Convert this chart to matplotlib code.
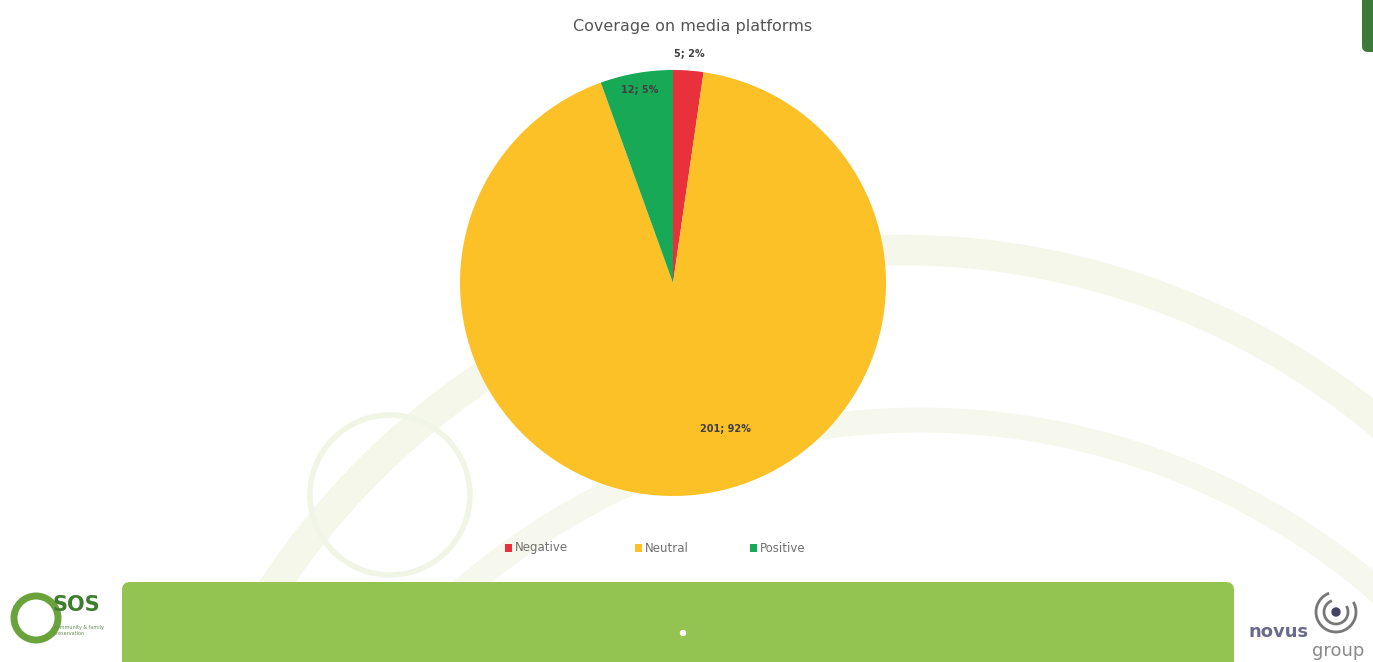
import numpy as np
import matplotlib.pyplot as plt
from matplotlib.patches import Circle, Arc, FancyBboxPatch, Rectangle

# Sentiment of coverage on media platforms
categories = ['Negative', 'Neutral', 'Positive']
counts = [5, 201, 12]
percents = [2, 92, 5]
colors = ['#e8313a', '#fcc126', '#17a955']

W, H = 1373, 662
fig = plt.figure(figsize=(W / 100, H / 100), dpi=100)
fig.patch.set_facecolor('white')

# Background layer in pixel coordinates (y down)
bg = fig.add_axes([0, 0, 1, 1])
bg.set_xlim(0, W)
bg.set_ylim(H, 0)
bg.axis('off')

# faint slide decorations
bg.add_patch(Arc((900, 1000), 1500, 1500, theta1=180, theta2=360,
                 color='#f4f7ea', lw=22, zorder=0))
bg.add_patch(Arc((920, 1120), 1400, 1400, theta1=180, theta2=360,
                 color='#f6f8ee', lw=18, zorder=0))
bg.add_patch(Circle((390, 495), 80, fill=False, ec='#f1f5e6', lw=4, zorder=0))

# bottom green band
bg.add_patch(FancyBboxPatch((122, 582), 1112, 90,
                            boxstyle='round,pad=0,rounding_size=8',
                            fc='#93c452', ec='none', zorder=1))
bg.add_patch(Circle((683, 633), 2.5, color='white', zorder=2))

# dark green tab at top right
bg.add_patch(FancyBboxPatch((1362, -10), 30, 62,
                            boxstyle='round,pad=0,rounding_size=6',
                            fc='#3d7a3a', ec='none', zorder=1))

# left logo
bg.add_patch(Circle((36, 618), 22, fill=False, ec='#6aa23c', lw=5, zorder=2))
bg.text(52, 611, 'SOS', fontsize=15, fontweight='bold', color='#3f7d2e',
        ha='left', va='baseline', zorder=3)
bg.text(54, 627, 'community & family', fontsize=3.5, color='#6a8a55',
        ha='left', va='center', zorder=3)
bg.text(54, 634, 'preservation', fontsize=3.5, color='#6a8a55',
        ha='left', va='center', zorder=3)

# right logo
for r, lw in [(20, 2), (12, 2)]:
    bg.add_patch(Arc((1336, 612), 2 * r, 2 * r, theta1=-30, theta2=250,
                     color='#777777', lw=lw, zorder=2))
bg.add_patch(Circle((1336, 612), 4, color='#444466', zorder=3))
bg.text(1248, 637, 'novus', fontsize=13, color='#6a6a8a', fontweight='bold',
        ha='left', va='baseline', zorder=3)
bg.text(1312, 656, 'group', fontsize=13, color='#8a8a8a',
        ha='left', va='baseline', zorder=3)

# title
bg.text(693, 27, 'Coverage on media platforms', fontsize=11.5, color='#555555',
        ha='center', va='center')

# Pie
cx, cy, R = 673, 283, 213
ax = fig.add_axes([(cx - R) / W, (H - cy - R) / H, 2 * R / W, 2 * R / H])
wedges, _ = ax.pie(counts, colors=colors, startangle=90, counterclock=False,
                   radius=1, wedgeprops=dict(linewidth=0))
ax.set_xlim(-1, 1)
ax.set_ylim(-1, 1)
ax.set_aspect('auto')
ax.axis('off')

# label placement: (radius, extra angle offset) for each wedge
label_pos = [(1.08, 0), (0.73, 14), (0.92, 0)]
for w, n, p, (r, off) in zip(wedges, counts, percents, label_pos):
    ang = np.deg2rad((w.theta1 + w.theta2) / 2 + off)
    ax.text(r * np.cos(ang), r * np.sin(ang), f'{n}; {p}%', fontsize=7,
            color='#404040', ha='center', va='center', fontweight='bold')

# Legend
leg_x = [505, 635, 750]
for x, c, name in zip(leg_x, colors, categories):
    bg.add_patch(Rectangle((x, 544), 7, 8, fc=c, ec='none'))
    bg.text(x + 10, 548, name, fontsize=8.5, color='#707070',
            ha='left', va='center')

fig.savefig('out.png', dpi=100)
